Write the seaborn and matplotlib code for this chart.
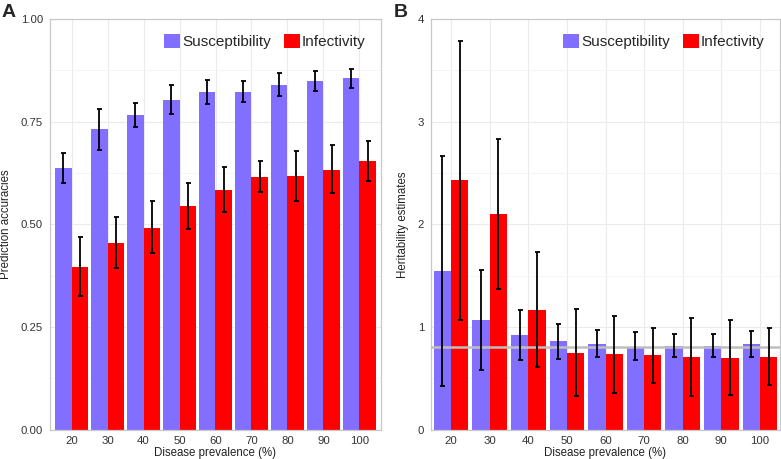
import numpy as np
import pandas as pd
import seaborn as sns
import matplotlib.pyplot as plt
from matplotlib.ticker import MultipleLocator

# Dane
PREVALENCE = ["20", "30", "40", "50", "60", "70", "80", "90", "100"]
TRAITS = ["Susceptibility", "Infectivity"]
COLORS = {"Susceptibility": "#836FFF", "Infectivity": "#FF0000"}

# --- A: dokladnosc predykcji ---
acc_susc = [0.636, 0.731, 0.766, 0.803, 0.821, 0.823, 0.839, 0.850, 0.856]
acc_susc_lo = [0.600, 0.682, 0.737, 0.769, 0.793, 0.798, 0.812, 0.825, 0.832]
acc_susc_hi = [0.674, 0.781, 0.796, 0.839, 0.851, 0.850, 0.868, 0.874, 0.879]
acc_inf = [0.396, 0.455, 0.492, 0.544, 0.583, 0.615, 0.618, 0.633, 0.653]
acc_inf_lo = [0.325, 0.393, 0.429, 0.489, 0.529, 0.578, 0.557, 0.576, 0.605]
acc_inf_hi = [0.468, 0.518, 0.557, 0.600, 0.639, 0.653, 0.679, 0.692, 0.703]

# --- B: odziedziczalnosc ---
her_susc = [1.540, 1.063, 0.917, 0.859, 0.830, 0.806, 0.816, 0.810, 0.830]
her_susc_lo = [0.424, 0.576, 0.677, 0.686, 0.703, 0.677, 0.703, 0.703, 0.709]
her_susc_hi = [2.663, 1.556, 1.164, 1.027, 0.969, 0.952, 0.933, 0.927, 0.962]
her_inf = [2.427, 2.098, 1.167, 0.745, 0.732, 0.722, 0.706, 0.696, 0.709]
her_inf_lo = [1.066, 1.368, 0.612, 0.326, 0.358, 0.453, 0.329, 0.339, 0.436]
her_inf_hi = [3.790, 2.832, 1.728, 1.170, 1.105, 0.988, 1.083, 1.063, 0.991]
TRUE_H = 0.8


def make_df(s, i):
    return pd.DataFrame({
        "prevalence": PREVALENCE * 2,
        "trait": [TRAITS[0]] * len(s) + [TRAITS[1]] * len(i),
        "value": list(s) + list(i),
    })


def draw_panel(ax, df, lows, highs, ylim, ystep, ylabel, xlim, label_x):
    sns.barplot(data=df, x="prevalence", y="value", hue="trait", order=PREVALENCE,
                hue_order=TRAITS, palette=COLORS, width=0.9, gap=0, saturation=1,
                errorbar=None, ax=ax, zorder=2, linewidth=0)
    # Slupki bledow
    for cont, lo, hi in zip(ax.containers, lows, highs):
        xs = [p.get_x() + p.get_width() / 2 for p in cont.patches]
        ys = np.array([p.get_height() for p in cont.patches])
        ax.errorbar(xs, ys, yerr=[ys - np.array(lo), np.array(hi) - ys], fmt="none",
                    ecolor="black", elinewidth=1.3, capsize=1.8, capthick=1.3, zorder=4)
    ax.set_ylim(*ylim)
    ax.set_xlim(*xlim)
    ax.yaxis.set_major_locator(MultipleLocator(ystep))
    ax.yaxis.set_minor_locator(MultipleLocator(ystep / 2))
    ax.grid(True, which="major", color="#EBEBEB", lw=0.8, zorder=0)
    ax.grid(True, which="minor", axis="y", color="#F4F4F4", lw=0.6, zorder=0)
    ax.set_axisbelow(True)
    for sp in ax.spines.values():
        sp.set_visible(True)
        sp.set_color("#C8C8C8")
        sp.set_linewidth(0.9)
    ax.tick_params(axis="both", which="major", length=3, width=0.8, color="#333333",
                   labelsize=8.2, labelcolor="#333333", pad=2)
    ax.tick_params(axis="y", which="minor", length=0)
    ax.set_xlabel("Disease prevalence (%)", fontsize=8.3, color="#222222", labelpad=0.5)
    ax.set_ylabel(ylabel, fontsize=8.3, color="#222222")
    ax.yaxis.set_label_coords(label_x, 0.5)
    ax.legend(loc="upper right", ncol=2, frameon=False, fontsize=11,
              handlelength=1.0, handleheight=1.0, handletextpad=0.15,
              columnspacing=0.9, borderaxespad=0.6, title=None)


sns.set_style("white")
plt.rcParams["font.family"] = ["Liberation Sans", "DejaVu Sans"]

fig = plt.figure(figsize=(7.81, 4.59), dpi=100)
ax_a = fig.add_axes([50 / 781, 29.5 / 459, 331 / 781, 410.5 / 459])
ax_b = fig.add_axes([431 / 781, 29.5 / 459, 349 / 781, 410.5 / 459])

draw_panel(ax_a, make_df(acc_susc, acc_inf),
           [acc_susc_lo, acc_inf_lo], [acc_susc_hi, acc_inf_hi],
           (0, 1.0), 0.25, "Prediction accuracies", (-0.6, 8.6), -0.115)
ax_a.yaxis.set_major_formatter(plt.FormatStrFormatter("%.2f"))

draw_panel(ax_b, make_df(her_susc, her_inf),
           [her_susc_lo, her_inf_lo], [her_susc_hi, her_inf_hi],
           (0, 4.0), 1, "Heritability estimates", (-0.52, 8.52), -0.062)
ax_b.axhline(TRUE_H, color="#BEBEBE", lw=1.8, zorder=3)

fig.text(2 / 781, 1 - 4 / 459, "A", fontsize=14, fontweight="bold", va="top")
fig.text(394 / 781, 1 - 4 / 459, "B", fontsize=14, fontweight="bold", va="top")

fig.savefig("out.png", dpi=100)
